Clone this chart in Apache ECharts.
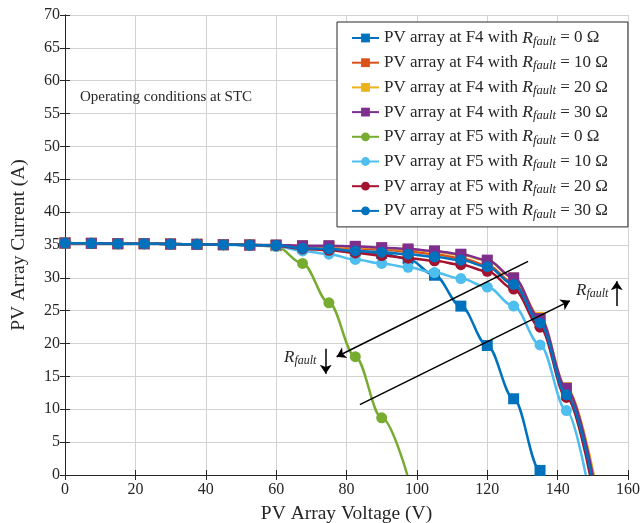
<!DOCTYPE html>
<html>
<head>
<meta charset="utf-8">
<script src="https://cdn.jsdelivr.net/npm/echarts@6/dist/echarts.min.js"></script>
<style>html,body{margin:0;padding:0;background:#fff}#c{width:641px;height:523px}</style>
</head>
<body>
<div id="c"></div>
<script>
// ---- data ----
const xTicks = [0, 20, 40, 60, 80, 100, 120, 140, 160];
const yTicks = [0, 5, 10, 15, 20, 25, 30, 35, 40, 45, 50, 55, 60, 65, 70];
const seriesNames = [
  'PV array at F4 with R_fault = 0 Ω',
  'PV array at F4 with R_fault = 10 Ω',
  'PV array at F4 with R_fault = 20 Ω',
  'PV array at F4 with R_fault = 30 Ω',
  'PV array at F5 with R_fault = 0 Ω',
  'PV array at F5 with R_fault = 10 Ω',
  'PV array at F5 with R_fault = 20 Ω',
  'PV array at F5 with R_fault = 30 Ω'
];
const voltageMarkers = [0, 7.5, 15, 22.5, 30, 37.5, 45, 52.5, 60, 67.5, 75, 82.5, 90, 97.5, 105, 112.5, 120, 127.5, 135, 142.5];
const F4_R0  = [35.3,35.25,35.2,35.2,35.15,35.1,35.05,35.0,34.9,34.6,34.4,34.1,33.7,32.9,30.4,25.7,19.7,11.6,0.7];
const F4_R10 = [35.3,35.25,35.2,35.2,35.15,35.1,35.05,35.0,34.95,34.8,34.7,34.5,34.3,34.0,33.6,33.0,31.9,29.2,23.3,12.6];
const F4_R20 = [35.3,35.25,35.2,35.2,35.15,35.1,35.05,35.0,34.95,34.85,34.8,34.7,34.5,34.3,34.0,33.5,32.6,30.0,24.0,13.3];
const F4_R30 = [35.3,35.25,35.2,35.2,35.15,35.1,35.05,35.0,35.0,34.9,34.9,34.8,34.6,34.4,34.1,33.6,32.7,30.0,23.8,13.2];
const F5_R0  = [35.3,35.25,35.2,35.2,35.15,35.1,35.05,35.0,34.8,32.2,26.2,18.0,8.7];
const F5_R10 = [35.3,35.25,35.2,35.2,35.15,35.1,35.05,34.95,34.8,34.1,33.6,32.8,32.2,31.6,30.8,29.9,28.6,25.7,19.8,9.8];
const F5_R20 = [35.3,35.25,35.2,35.2,35.15,35.1,35.05,35.0,34.9,34.4,34.2,33.8,33.4,33.0,32.6,32.0,31.0,28.3,22.5,11.8];
const F5_R30 = [35.3,35.25,35.2,35.2,35.15,35.1,35.05,35.0,34.95,34.5,34.4,34.1,33.9,33.6,33.2,32.7,31.7,29.0,23.1,12.2];
// open-circuit voltage (I = 0) where each curve ends
const openCircuitV = [135.4, 149.6, 150.3, 150.0, 97.3, 148.0, 149.2, 149.6];
const currents = [F4_R0, F4_R10, F4_R20, F4_R30, F5_R0, F5_R10, F5_R20, F5_R30];
const colors = ['#0072BD','#D95319','#EDB120','#7E2F8E','#77AC30','#4DBEEE','#A2142F','#0072BD'];
const symbols = ['rect','rect','rect','rect','circle','circle','circle','circle'];
// annotation arrows (data coords)
const bigArrows = [
  [[131.6, 32.5], [77.2, 18.0]],
  [[83.8, 10.7], [143.5, 26.5]]
];
const smallArrows = [
  [[74.1, 19.2], [74.1, 15.4]],
  [[156.8, 25.7], [156.8, 29.5]]
];

const FONT = '"Liberation Serif", "DejaVu Serif", serif';
const chart = echarts.init(document.getElementById('c'), null, {renderer: 'canvas'});

function richName(name) {
  const m = name.match(/^(.*)R_fault(.*)$/);
  return '{t|' + m[1] + '}{r|R}{s|fault}{t|' + m[2] + '}';
}

const series = currents.map((ys, k) => {
  const data = ys.map((y, i) => [voltageMarkers[i], y]);
  data.push({value: [openCircuitV[k], 0], symbol: 'none'});
  return {
    name: seriesNames[k],
    type: 'line',
    data: data,
    smooth: 0.35,
    smoothMonotone: 'x',
    symbol: symbols[k],
    symbolSize: 11,
    showAllSymbol: true,
    lineStyle: {color: colors[k], width: 2.5},
    itemStyle: {color: colors[k]},
    z: 2 + k,
    animation: false
  };
});

series.push({
  type: 'lines',
  coordinateSystem: 'cartesian2d',
  xAxisIndex: 0, yAxisIndex: 0,
  symbol: ['none', 'arrow'],
  symbolSize: 9,
  lineStyle: {color: '#000', width: 1.5, opacity: 1},
  data: bigArrows.concat(smallArrows).map(c => ({coords: c})),
  z: 20,
  animation: false
});

const axisCommon = {
  type: 'value',
  axisLine: {show: true, lineStyle: {color: '#262626', width: 1}},
  axisTick: {show: true, inside: true, length: 5, lineStyle: {color: '#262626'}},
  splitLine: {show: true, lineStyle: {color: '#d2d2d2', width: 1}},
  axisLabel: {color: '#262626', fontFamily: FONT, fontSize: 16}
};

const option = {
  animation: false,
  grid: {left: 65, right: 13, top: 15, bottom: 48, outerBoundsMode: 'none', containLabel: false},
  xAxis: [
    Object.assign({}, axisCommon, {
      min: 0, max: 160, interval: 20, position: 'bottom',
      name: 'PV Array Voltage (V)', nameLocation: 'middle', nameGap: 29,
      nameTextStyle: {fontFamily: FONT, fontSize: 19.5, color: '#262626'},
      axisLabel: Object.assign({}, axisCommon.axisLabel, {margin: 7})
    }),
    Object.assign({}, axisCommon, {
      min: 0, max: 160, interval: 20, position: 'top',
      axisLabel: {show: false}, splitLine: {show: false}
    })
  ],
  yAxis: [
    Object.assign({}, axisCommon, {
      min: 0, max: 70, interval: 5, position: 'left',
      name: 'PV Array Current (A)', nameLocation: 'middle', nameGap: 36,
      nameTextStyle: {fontFamily: FONT, fontSize: 19.5, color: '#262626'},
      axisLabel: Object.assign({}, axisCommon.axisLabel, {margin: 5})
    }),
    Object.assign({}, axisCommon, {
      min: 0, max: 70, interval: 5, position: 'right',
      axisLabel: {show: false}, splitLine: {show: false}
    })
  ],
  legend: {
    data: seriesNames,
    orient: 'vertical',
    left: 337, top: 22,
    padding: [6, 20, 6, 14],
    itemGap: 4.7,
    itemWidth: 27,
    itemHeight: 11,
    backgroundColor: '#fff',
    borderColor: '#262626',
    borderWidth: 1,
    formatter: richName,
    textStyle: {
      fontFamily: FONT, fontSize: 17, color: '#262626', lineHeight: 20,
      rich: {
        t: {fontFamily: FONT, fontSize: 17, color: '#262626', lineHeight: 20},
        r: {fontFamily: FONT, fontSize: 17.5, fontStyle: 'italic', color: '#262626', lineHeight: 20},
        s: {fontFamily: FONT, fontSize: 12.5, fontStyle: 'italic', color: '#262626', lineHeight: 20, padding: [7, 0, 0, 0]}
      }
    }
  },
  graphic: [
    {type: 'text', left: 80, top: 90, z: 30,
     style: {text: 'Operating conditions at STC', font: '15px ' + FONT, fill: '#262626'}},
    {type: 'text', left: 284, top: 348, z: 30,
     style: {text: '{r|R}{s|fault}', fill: '#262626',
       rich: {r: {font: 'italic 17px ' + FONT, lineHeight: 20}, s: {font: 'italic 12px ' + FONT, lineHeight: 20, padding: [7, 0, 0, 0]}}}},
    {type: 'text', left: 576, top: 281, z: 30,
     style: {text: '{r|R}{s|fault}', fill: '#262626',
       rich: {r: {font: 'italic 17px ' + FONT, lineHeight: 20}, s: {font: 'italic 12px ' + FONT, lineHeight: 20, padding: [7, 0, 0, 0]}}}}
  ],
  series: series
};
chart.setOption(option);
</script>
</body>
</html>
